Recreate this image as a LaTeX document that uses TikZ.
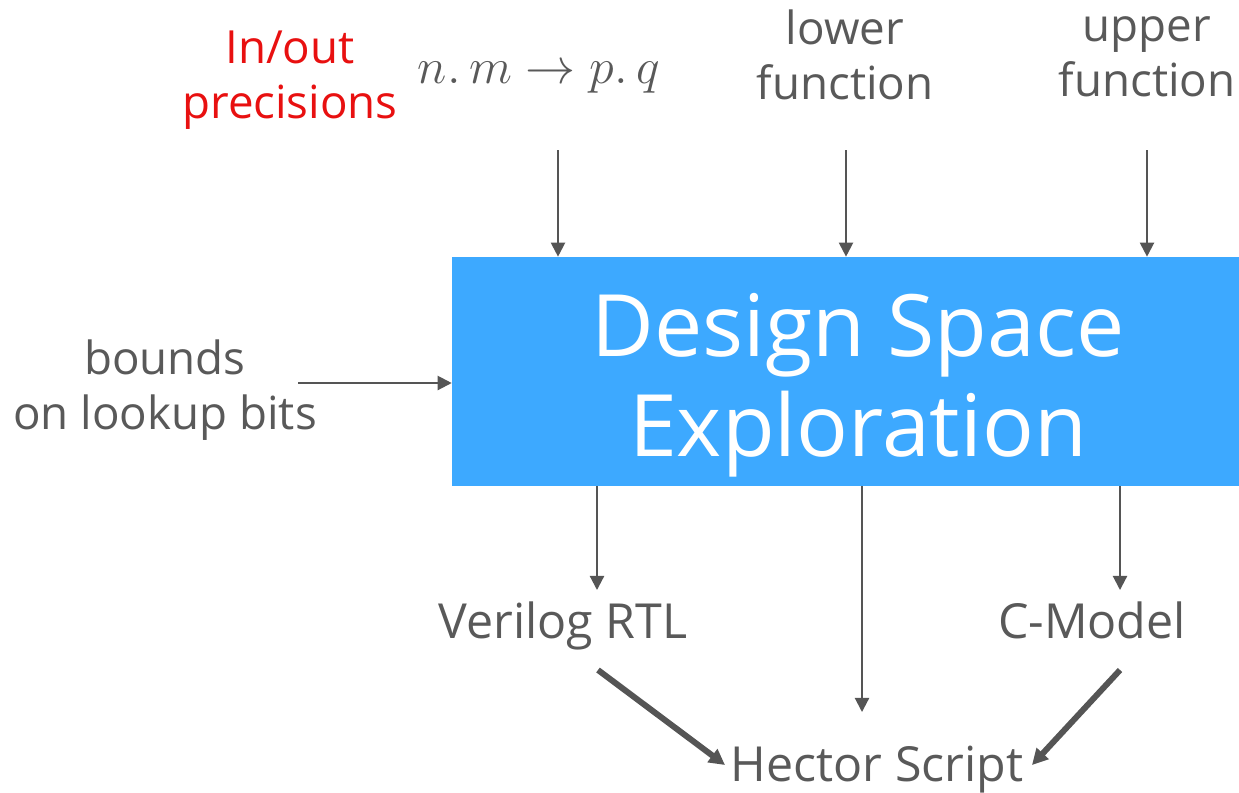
\documentclass[tikz,border=0pt]{standalone}
\usepackage{fix-cm}
\usepackage{fontspec}
\setmainfont{Open Sans}
\usetikzlibrary{arrows.meta}
\definecolor{boxblue}{RGB}{61,169,255}
\definecolor{ink}{RGB}{85,85,85}
\definecolor{txt}{RGB}{89,89,89}
\definecolor{hot}{RGB}{232,16,16}
\begin{document}
\begin{tikzpicture}[x=0.02cm, y=-0.02cm,
  lbl/.style={text=txt, font=\fontsize{26}{31}\selectfont, align=center, inner sep=0pt},
  outlbl/.style={lbl, font=\fontsize{27.5}{32}\selectfont, anchor=base},
  title/.style={text=white, font=\fontsize{49}{57}\selectfont, align=center, inner sep=0pt},
  flow/.style={draw=ink, line width=1.2pt, -{Triangle[length=8pt,width=8pt]}},
  merge/.style={draw=ink, line width=3.4pt, -{Triangle[length=9pt,width=9pt]}}]
\useasboundingbox (0,0) rectangle (1239,792);

% central block
\node[fill=boxblue, minimum width=15.74cm, minimum height=4.58cm, inner sep=0pt] (box) at (845.5,371.5) {};
\node[title] (ttl) at (858,385) {Design Space\\Exploration};

% inputs
\node[lbl, text=hot] (prec) at (290,80) {In/out\\precisions};
\node[lbl, font=\fontsize{28.5}{33}\selectfont] (nm) at (539,78) {$n.\,m \rightarrow p.\,q$};
\node[lbl] (lower) at (845,55) {lower\\function};
\node[lbl] (upper) at (1147,57) {upper\\function};
\node[lbl] (bounds) at (165,390) {bounds\\on lookup bits};

% outputs
\node[outlbl] (rtl) at (563,638) {Verilog RTL};
\node[outlbl] (cmod) at (1092,638) {C-Model};
\node[outlbl] (hector) at (877,781) {Hector Script};

% arrow end points
\coordinate (nmOut) at (558,150);
\coordinate (lowOut) at (846,150);
\coordinate (upOut) at (1147,150);
\coordinate (bndOut) at (298,383);
\coordinate (rtlIn) at (597,590);
\coordinate (hecIn) at (862,712);
\coordinate (cmIn) at (1120,590);
\coordinate (rtlOut) at (598,670);
\coordinate (cmOut) at (1120,670);
\coordinate (hecL) at (725,765);
\coordinate (hecR) at (1032,765);

\draw[flow] (nmOut) -- (nmOut |- box.north);
\draw[flow] (lowOut) -- (lowOut |- box.north);
\draw[flow] (upOut) -- (upOut |- box.north);
\draw[flow] (bndOut) -- (bndOut -| box.west);
\draw[flow] (rtlIn |- box.south) -- (rtlIn);
\draw[flow] (hecIn |- box.south) -- (hecIn);
\draw[flow] (cmIn |- box.south) -- (cmIn);
\draw[merge] (rtlOut) -- (hecL);
\draw[merge] (cmOut) -- (hecR);
\end{tikzpicture}
\end{document}
